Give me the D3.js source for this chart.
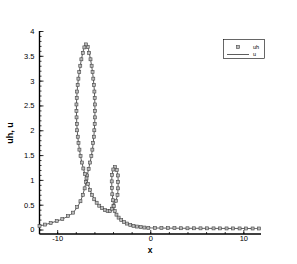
<!DOCTYPE html>
<html>
<head>
<meta charset="utf-8">
<script src="https://cdn.jsdelivr.net/npm/d3@7.9.0/dist/d3.min.js"></script>
<style>
  body { margin: 0; background: #fff; }
  svg { display: block; }
  text { font-family: "Liberation Sans", Arial, sans-serif; fill: #000; }
</style>
</head>
<body>
<svg id="chart" width="297" height="264"></svg>
<script>
// points along the curve (x, uh)
const xVals = [
  -11.9, -11.3, -10.7, -10.05, -9.45, -8.85, -8.3, -7.85, -7.5, -7.25, -7.05, -6.9, -6.78,
  -6.62, -6.47, -6.33, -6.22, -6.13, -6.06, -6.01, -5.97, -5.95, -5.94, -5.95, -5.97, -6.0,
  -6.05, -6.12, -6.2, -6.3, -6.42, -6.56, -6.72, -6.9,
  -7.08, -7.25, -7.4, -7.52, -7.63, -7.72, -7.8, -7.86, -7.9, -7.93, -7.93, -7.92, -7.89,
  -7.85, -7.79, -7.71, -7.61, -7.49, -7.35, -7.19, -7.02, -6.85,
  -6.68, -6.48, -6.26, -6.02, -5.76, -5.48, -5.18, -4.88, -4.58, -4.32, -4.12, -3.95,
  -3.7, -3.52, -3.46, -3.45, -3.48, -3.6, -3.79, -3.97, -4.1, -4.14, -4.13, -4.08, -4.01,
  -3.93, -3.82, -3.63, -3.4, -3.12, -2.82, -2.5, -2.15, -1.8, -1.42, -1.03, -0.63, -0.21,
  0.5, 1.2, 1.9, 2.6, 3.3, 4.0, 4.7, 5.4, 6.1, 6.8, 7.5, 8.2, 8.9, 9.6, 10.3, 11.0, 11.7
];
const uhVals = [
  0.07, 0.1, 0.13, 0.17, 0.21, 0.27, 0.34, 0.45, 0.57, 0.7, 0.83, 0.96, 1.09,
  1.22, 1.35, 1.48, 1.61, 1.74, 1.87, 2.0, 2.13, 2.26, 2.39, 2.52, 2.65, 2.78,
  2.91, 3.04, 3.17, 3.3, 3.43, 3.56, 3.68, 3.73,
  3.67, 3.56, 3.43, 3.3, 3.17, 3.04, 2.91, 2.78, 2.65, 2.52, 2.39, 2.26, 2.13,
  2.0, 1.87, 1.74, 1.61, 1.48, 1.35, 1.23, 1.12, 1.03,
  0.92, 0.8, 0.7, 0.61, 0.54, 0.48, 0.43, 0.39, 0.37, 0.37, 0.42, 0.48,
  0.58, 0.7, 0.83, 0.96, 1.09, 1.2, 1.26, 1.21, 1.1, 0.97, 0.84, 0.71, 0.59,
  0.47, 0.37, 0.3, 0.24, 0.19, 0.15, 0.12, 0.095, 0.075, 0.06, 0.05, 0.04, 0.035,
  0.03, 0.03, 0.028, 0.027, 0.026, 0.025, 0.025, 0.024, 0.024, 0.023, 0.023, 0.022, 0.022, 0.022, 0.021, 0.021, 0.021
];
// exact solution u drawn as a line through the same points
const uVals = uhVals;

const xTicks = [-10, 0, 10];
const yTicks = [0, 0.5, 1, 1.5, 2, 2.5, 3, 3.5, 4];
const legendLabels = ["uh", "u"];

const svg = d3.select("#chart");

const x = d3.scaleLinear().domain([-11.9, 11.9]).range([39.5, 261]);
const y = d3.scaleLinear().domain([-0.09, 4]).range([234, 31]);

const pts = xVals.map((d, i) => ({ x: d, uh: uhVals[i], u: uVals[i] }));

// axes
const xAxis = svg.append("g").attr("transform", `translate(0,${y(-0.09)})`);
xAxis.call(d3.axisBottom(x).tickValues(d3.range(-10, 11, 2)).tickSize(-2).tickFormat(""));
xAxis.append("g").call(d3.axisBottom(x).tickValues(xTicks).tickSize(-4).tickFormat(d => d).tickPadding(2));
xAxis.selectAll(".domain").attr("stroke", "#000").attr("stroke-width", 1.2);
xAxis.selectAll(".tick line").attr("stroke", "#000").attr("stroke-width", 0.8);
xAxis.selectAll("text").attr("font-size", 7.5).style("font-family", '"Liberation Sans", Arial, sans-serif');

const yAxis = svg.append("g").attr("transform", `translate(${x(-11.9)},0)`);
yAxis.call(d3.axisLeft(y).tickValues(d3.range(0, 40.5, 1).map(d => d / 10)).tickSize(-2).tickFormat(""));
yAxis.append("g").call(d3.axisLeft(y).tickValues(yTicks).tickSize(-4).tickFormat(d => d).tickPadding(5));
yAxis.selectAll(".domain").attr("stroke", "#000").attr("stroke-width", 1.2);
yAxis.selectAll(".tick line").attr("stroke", "#000").attr("stroke-width", 0.8);
yAxis.selectAll("text").attr("font-size", 7.5).style("font-family", '"Liberation Sans", Arial, sans-serif');
// axis lines only over the data range
yAxis.selectAll(".domain").attr("d", `M0,${y(-0.09)}V${y(4)}`);
xAxis.selectAll(".domain").attr("d", `M${x(-11.9)},0H${x(11.9)}`);

// axis titles
svg.append("text")
  .attr("x", 150).attr("y", 252.5)
  .attr("text-anchor", "middle")
  .attr("font-size", 8.5).attr("font-weight", "bold")
  .text("x");

svg.append("text")
  .attr("transform", `translate(13,${133}) rotate(-90)`)
  .attr("text-anchor", "middle")
  .attr("font-size", 9).attr("font-weight", "bold")
  .text("uh, u");

// exact line
const line = d3.line()
  .x(d => x(d.x))
  .y(d => y(d.u))
  .curve(d3.curveCatmullRom);

svg.append("path")
  .datum(pts)
  .attr("d", line)
  .attr("fill", "none")
  .attr("stroke", "#333")
  .attr("stroke-width", 0.8);

// numerical markers
const ms = 3;
svg.append("g").selectAll("rect")
  .data(pts)
  .enter()
  .append("rect")
  .attr("x", d => x(d.x) - ms / 2)
  .attr("y", d => y(d.uh) - ms / 2)
  .attr("width", ms)
  .attr("height", ms)
  .attr("fill", "#bbb")
  .attr("stroke", "#444")
  .attr("stroke-width", 0.6);

// legend
const lg = svg.append("g");
lg.append("rect")
  .attr("x", 223.5).attr("y", 39.5)
  .attr("width", 41).attr("height", 19)
  .attr("fill", "#fff").attr("stroke", "#000").attr("stroke-width", 0.6);
lg.append("rect")
  .attr("x", 238 - ms / 2).attr("y", 47 - ms / 2)
  .attr("width", ms).attr("height", ms)
  .attr("fill", "#bbb").attr("stroke", "#444").attr("stroke-width", 0.6);
lg.append("line")
  .attr("x1", 227).attr("x2", 249).attr("y1", 54.5).attr("y2", 54.5)
  .attr("stroke", "#333").attr("stroke-width", 0.8);
lg.selectAll("text.lab")
  .data(legendLabels)
  .enter()
  .append("text")
  .attr("class", "lab")
  .attr("x", 253)
  .attr("y", (d, i) => 49 + i * 7)
  .attr("font-size", 5.5)
  .text(d => d);
</script>
</body>
</html>
